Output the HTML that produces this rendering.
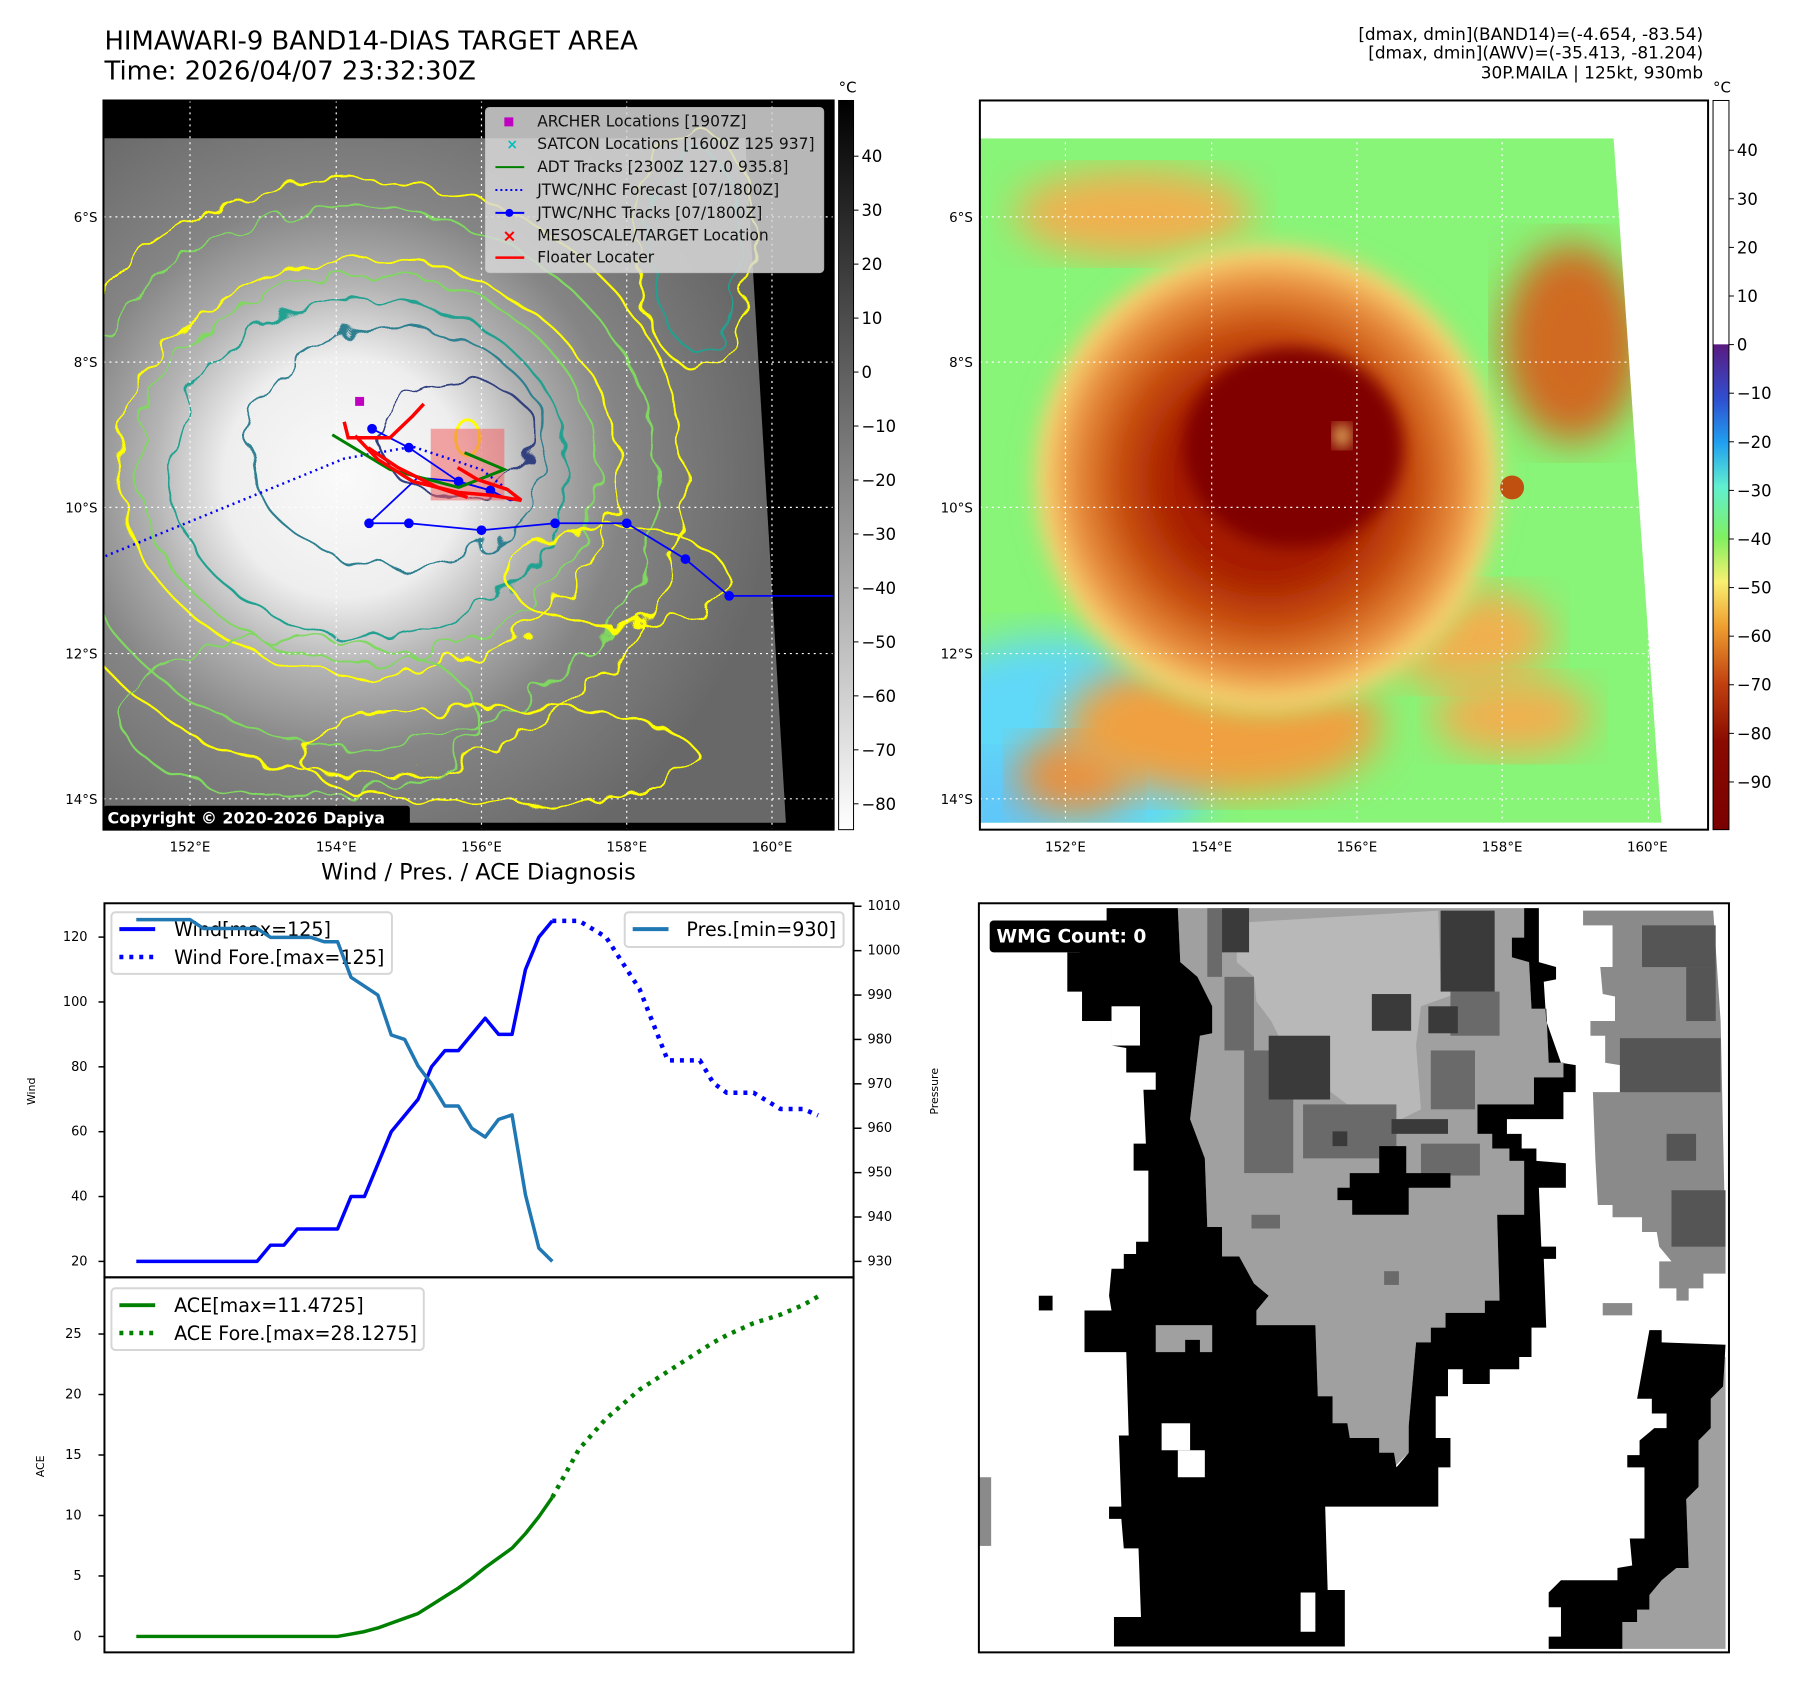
<!DOCTYPE html>
<html><head><meta charset="utf-8"><style>
html,body{margin:0;padding:0;background:#fff;}
svg{display:block;font-family:"DejaVu Sans","Liberation Sans",sans-serif;}
</style></head><body>
<svg id="root" width="1797" height="1690" viewBox="0 0 1797 1690" xmlns="http://www.w3.org/2000/svg">
<defs>
<radialGradient id="g1" cx="346" cy="480" r="430" gradientUnits="userSpaceOnUse">
<stop offset="0" stop-color="#fafafa"/><stop offset="0.28" stop-color="#eeeeee"/><stop offset="0.45" stop-color="#b4b4b4"/><stop offset="0.65" stop-color="#858585"/><stop offset="1" stop-color="#686868"/></radialGradient>
<radialGradient id="ring" cx="1274" cy="480" r="250" gradientUnits="userSpaceOnUse">
<stop offset="0" stop-color="#9a1000"/><stop offset="0.4" stop-color="#a82000"/><stop offset="0.6" stop-color="#c85010"/><stop offset="0.78" stop-color="#e89040"/><stop offset="0.9" stop-color="#f8d070"/><stop offset="1" stop-color="#90f070" stop-opacity="0"/></radialGradient>
<linearGradient id="cb1" x1="0" y1="0" x2="0" y2="1"><stop offset="0" stop-color="#000"/><stop offset="1" stop-color="#fff"/></linearGradient>
<linearGradient id="cb2" x1="0" y1="0" x2="0" y2="1">
<stop offset="0" stop-color="#fff"/><stop offset="0.334" stop-color="#fff"/><stop offset="0.335" stop-color="#5a1a80"/><stop offset="0.41" stop-color="#3050d0"/><stop offset="0.47" stop-color="#20a0f0"/><stop offset="0.53" stop-color="#60f0d0"/><stop offset="0.6" stop-color="#80f060"/><stop offset="0.66" stop-color="#f8f070"/><stop offset="0.72" stop-color="#f0a030"/><stop offset="0.8" stop-color="#c04010"/><stop offset="0.88" stop-color="#8a0a00"/><stop offset="1" stop-color="#7a0000"/></linearGradient>
<filter id="blur8"><feGaussianBlur stdDeviation="8"/></filter>
<filter id="blur20"><feGaussianBlur stdDeviation="20"/></filter>
<filter id="rough" x="-10%" y="-10%" width="120%" height="120%"><feTurbulence type="fractalNoise" baseFrequency="0.03" numOctaves="2" seed="3"/><feDisplacementMap in="SourceGraphic" scale="30"/></filter>
<clipPath id="c1"><rect x="104" y="101" width="734" height="733"/></clipPath>
<clipPath id="c2"><polygon points="985,139 1622,139 1670,827 985,827"/></clipPath>
</defs>
<g transform="scale(0.9948)">

<text x="105" y="50" font-size="26">HIMAWARI-9 BAND14-DIAS TARGET AREA</text>
<text x="105" y="80" font-size="26">Time: 2026/04/07 23:32:30Z</text>
<g font-size="17" text-anchor="end">
<text x="1712" y="40">[dmax, dmin](BAND14)=(-4.654, -83.54)</text>
<text x="1712" y="59">[dmax, dmin](AWV)=(-35.413, -81.204)</text>
<text x="1712" y="79">30P.MAILA | 125kt, 930mb</text>
</g>

<g>
<rect x="104" y="101" width="734" height="733" fill="#000"/>
<g clip-path="url(#c1)">
<polygon points="104,139 749,139 790,827 104,827" fill="url(#g1)"/>
<g fill="none" filter="url(#rough)" stroke-width="2.2">
<ellipse cx="360" cy="480" rx="330" ry="300" stroke="#ffff00"/>
<ellipse cx="360" cy="480" rx="300" ry="270" stroke="#80d860"/>
<ellipse cx="370" cy="470" rx="250" ry="210" stroke="#ffff00"/>
<ellipse cx="370" cy="470" rx="230" ry="195" stroke="#80d860"/>
<ellipse cx="370" cy="470" rx="200" ry="170" stroke="#20a090"/>
<ellipse cx="400" cy="450" rx="150" ry="120" stroke="#2f7f90"/>
<ellipse cx="460" cy="440" rx="80" ry="60" stroke="#30407f"/>
<ellipse cx="700" cy="250" rx="60" ry="120" stroke="#ffff00"/>
<ellipse cx="700" cy="250" rx="45" ry="100" stroke="#20a090"/>
<ellipse cx="620" cy="580" rx="110" ry="50" stroke="#ffff00"/>
<ellipse cx="300" cy="720" rx="180" ry="80" stroke="#80d860"/>
<ellipse cx="500" cy="760" rx="200" ry="50" stroke="#ffff00"/>
</g>
<ellipse cx="470" cy="440" rx="12" ry="18" fill="none" stroke="#ffff00" stroke-width="3"/>
<g stroke="#fff" stroke-width="1.2" stroke-dasharray="2 4">
<line x1="191" y1="101" x2="191" y2="834"/><line x1="338" y1="101" x2="338" y2="834"/><line x1="484" y1="101" x2="484" y2="834"/><line x1="630" y1="101" x2="630" y2="834"/><line x1="776" y1="101" x2="776" y2="834"/>
<line x1="104" y1="218" x2="838" y2="218"/><line x1="104" y1="364" x2="838" y2="364"/><line x1="104" y1="510" x2="838" y2="510"/><line x1="104" y1="657" x2="838" y2="657"/><line x1="104" y1="803" x2="838" y2="803"/>
</g>
<rect x="433" y="431" width="74" height="72" fill="#f06060" opacity="0.55"/>
<polyline points="106,559 346,461 415,449 484,472 524,503" fill="none" stroke="#0000ff" stroke-width="2.5" stroke-dasharray="2 4"/>
<g stroke="#0000ff" fill="#0000ff" stroke-width="1.8">
<polyline fill="none" points="838,599 733,599 689,562 630,526 558,526 484,533 411,526 371,526 420,480 461,484 493,493 513,503 524,501"/>
<polyline fill="none" points="374,431 411,450 461,484 493,493 513,503"/>
<circle cx="733" cy="599" r="4"/><circle cx="689" cy="562" r="4"/><circle cx="630" cy="526" r="4"/><circle cx="558" cy="526" r="4"/><circle cx="484" cy="533" r="4"/><circle cx="411" cy="526" r="4"/><circle cx="371" cy="526" r="4"/><circle cx="374" cy="431" r="4"/><circle cx="411" cy="450" r="4"/><circle cx="461" cy="484" r="4"/><circle cx="493" cy="493" r="4"/>
</g>
<polyline points="334,437 392,472 461,490 507,472 467,455" fill="none" stroke="#008000" stroke-width="3"/>
<g fill="none" stroke="#ff0000" stroke-width="3.5">
<polyline points="346,424 350,440 392,440 415,418 426,406"/>
<polyline points="357,438 380,462 415,484 461,495 495,498 524,503 510,492 480,482 460,470"/>
<polyline points="370,450 400,470 440,490 470,500"/>
</g>
<rect x="357" y="399" width="9" height="9" fill="#c000c0"/>
</g>
<g>
<rect x="488" y="108" width="340" height="166" rx="4" fill="#d8d8d8" opacity="0.85" stroke="#ccc"/>
<rect x="507" y="118" width="9" height="9" fill="#c000c0"/>
<text x="509" y="150" fill="#00bfbf" font-size="14" font-weight="bold">×</text>
<line x1="498" y1="168" x2="527" y2="168" stroke="#008000" stroke-width="2"/>
<line x1="498" y1="191" x2="527" y2="191" stroke="#0000ff" stroke-width="2" stroke-dasharray="2 3"/>
<line x1="498" y1="214" x2="527" y2="214" stroke="#0000ff" stroke-width="2"/><circle cx="512" cy="214" r="4" fill="#0000ff"/>
<text x="505" y="243" fill="#ff0000" font-size="17" font-weight="bold">×</text>
<line x1="498" y1="259" x2="527" y2="259" stroke="#ff0000" stroke-width="2.5"/>
<g font-size="15.6" fill="#111">
<text x="540" y="127">ARCHER Locations [1907Z]</text>
<text x="540" y="150">SATCON Locations [1600Z 125 937]</text>
<text x="540" y="173">ADT Tracks [2300Z 127.0 935.8]</text>
<text x="540" y="196">JTWC/NHC Forecast [07/1800Z]</text>
<text x="540" y="219">JTWC/NHC Tracks [07/1800Z]</text>
<text x="540" y="242">MESOSCALE/TARGET Location</text>
<text x="540" y="264">Floater Locater</text>
</g></g>
<rect x="104" y="810" width="308" height="23" rx="3" fill="#000"/>
<text x="108" y="828" font-size="16" font-weight="bold" fill="#fff">Copyright © 2020-2026 Dapiya</text>
<rect x="104" y="101" width="734" height="733" fill="none" stroke="#000" stroke-width="2"/>
</g>

<g>
<rect x="843" y="101" width="15" height="733" fill="url(#cb1)" stroke="#000" stroke-width="1"/>
<text x="852" y="93" font-size="15" text-anchor="middle">°C</text>
<g font-size="16.5" id="cb1ticks"></g>
</g>

<g>
<rect x="985" y="101" width="732" height="733" fill="#fff"/>
<g clip-path="url(#c2)">
<rect x="985" y="139" width="700" height="700" fill="#88f478"/>
<ellipse cx="1060" cy="760" rx="160" ry="120" fill="#60d8f8" filter="url(#blur20)"/>
<ellipse cx="1000" cy="820" rx="60" ry="60" fill="#60c8f8" filter="url(#blur20)"/>
<ellipse cx="1580" cy="345" rx="70" ry="100" fill="#d06a20" filter="url(#blur20)"/>
<ellipse cx="1140" cy="215" rx="120" ry="45" fill="#f0b050" filter="url(#blur20)"/>
<ellipse cx="1470" cy="640" rx="90" ry="50" fill="#f0b050" filter="url(#blur20)"/>
<ellipse cx="1520" cy="720" rx="80" ry="40" fill="#f0b050" filter="url(#blur20)"/>
<ellipse cx="1080" cy="780" rx="60" ry="40" fill="#e89040" filter="url(#blur20)"/>
<ellipse cx="1230" cy="730" rx="160" ry="70" fill="#f0a040" filter="url(#blur20)"/>
<ellipse cx="1274" cy="480" rx="265" ry="275" fill="url(#ring)" filter="url(#blur8)"/>
<ellipse cx="1300" cy="450" rx="110" ry="100" fill="#800000" filter="url(#blur8)"/>
<ellipse cx="1349" cy="438" rx="9" ry="12" fill="#f8d070" filter="url(#blur8)"/>
<ellipse cx="1520" cy="490" rx="12" ry="12" fill="#c05010"/>
<g stroke="#fff" stroke-width="1.2" stroke-dasharray="2 4">
<line x1="1071" y1="101" x2="1071" y2="834"/><line x1="1218" y1="101" x2="1218" y2="834"/><line x1="1364" y1="101" x2="1364" y2="834"/><line x1="1510" y1="101" x2="1510" y2="834"/><line x1="1657" y1="101" x2="1657" y2="834"/>
<line x1="985" y1="218" x2="1717" y2="218"/><line x1="985" y1="364" x2="1717" y2="364"/><line x1="985" y1="510" x2="1717" y2="510"/><line x1="985" y1="657" x2="1717" y2="657"/><line x1="985" y1="803" x2="1717" y2="803"/>
</g>
</g>
<rect x="985" y="101" width="732" height="733" fill="none" stroke="#000" stroke-width="2"/>
</g>
<g>
<rect x="1722" y="101" width="16" height="733" fill="url(#cb2)" stroke="#000" stroke-width="1"/>
<text x="1731" y="93" font-size="15" text-anchor="middle">°C</text>
<g font-size="16.5" id="cb2ticks"></g>
</g>

<g font-size="13.5" id="geoLabels"></g>

<text x="481" y="884" font-size="22.5" text-anchor="middle">Wind / Pres. / ACE Diagnosis</text>
<g id="chart"></g>

<g>
<svg x="984" y="908" width="754" height="753" viewBox="0 0 1527 1527" preserveAspectRatio="none">
<rect x="0" y="0" width="1527" height="1527" fill="#fff"/>
<polygon fill="#a0a0a0" points="385,10 1110,10 1110,70 1085,70 1085,110 1120,120 1125,215 1155,215 1160,325 1190,325 1190,355 1130,355 1130,410 1015,410 1015,470 1045,470 1045,500 1080,500 1080,525 1110,525 1110,635 1055,635 1060,810 1030,810 1030,835 950,835 950,865 920,865 920,895 890,895 875,1065 875,1120 845,1150 815,1120 815,1090 755,1090 720,1060 720,1005 690,1005 685,860 565,860 565,830 590,800 560,775 530,720 495,720 495,660 465,660 460,520 430,440 450,270 475,265 475,210 445,150 410,120 405,10"/>
<polygon fill="#b8b8b8" points="525,40 935,15 940,160 970,160 970,185 900,210 890,290 900,420 860,440 770,440 750,410 710,380 660,350 620,290 595,240 565,200 560,150 525,120"/>
<g fill="#6a6a6a">
<rect x="465" y="10" width="30" height="140"/><rect x="500" y="150" width="60" height="150"/><rect x="540" y="300" width="100" height="250"/><rect x="660" y="410" width="190" height="110"/><rect x="900" y="490" width="120" height="65"/><rect x="960" y="180" width="100" height="90"/><rect x="920" y="300" width="90" height="120"/><rect x="555" y="635" width="58" height="28"/><rect x="825" y="750" width="30" height="28"/>
</g>
<g fill="#3a3a3a">
<rect x="940" y="15" width="110" height="165"/><rect x="495" y="10" width="55" height="90"/><rect x="590" y="270" width="125" height="130"/><rect x="800" y="185" width="80" height="75"/><rect x="915" y="210" width="60" height="55"/><rect x="840" y="440" width="115" height="30"/><rect x="720" y="465" width="30" height="30"/>
</g>
<polygon fill="#000" points="755,550 815,550 815,495 870,495 870,550 960,550 960,580 875,580 875,635 760,635 760,605 730,605 730,580 755,580"/>
<polygon fill="#000" points="260,10 405,10 410,120 445,150 475,210 475,265 450,270 430,440 460,520 465,660 495,660 495,720 530,720 560,775 590,800 565,830 565,860 685,860 690,1005 720,1005 720,1060 750,1060 755,1090 815,1090 815,1120 845,1120 850,1150 935,1150 935,1230 705,1230 710,1400 745,1400 745,1515 275,1515 275,1455 330,1455 325,1315 295,1315 290,1255 265,1255 265,1230 290,1230 285,1085 305,1085 300,915 215,915 215,830 270,830 265,800 270,745 295,745 295,715 320,715 320,690 345,690 345,545 315,545 315,490 340,490 335,380 360,380 360,345 300,345 300,295 270,290 270,240 210,240 210,180 180,180 180,100 205,100 205,40 260,40"/>
<g fill="#fff"><rect x="372" y="1060" width="58" height="55"/><rect x="405" y="1115" width="55" height="55"/><rect x="270" y="210" width="58" height="80"/><rect x="655" y="1405" width="30" height="80"/></g>
<polygon fill="#a0a0a0" points="360,860 475,860 475,915 450,915 450,890 420,890 420,915 360,915"/>
<polygon fill="#000" points="1110,10 1140,10 1140,120 1175,130 1175,155 1150,160 1155,240 1185,325 1215,330 1215,385 1190,385 1190,440 1075,440 1075,470 1105,470 1105,500 1135,500 1135,525 1195,530 1195,580 1140,580 1145,700 1175,700 1175,725 1150,725 1155,865 1125,865 1125,925 1100,925 1100,950 1040,950 1040,980 985,980 985,950 955,950 955,1005 930,1005 930,1090 960,1090 960,1150 935,1150 935,1230 850,1150 875,1120 875,1065 890,895 920,895 920,865 950,865 950,835 1030,835 1030,810 1060,810 1055,635 1110,635 1110,525 1080,525 1080,500 1045,500 1045,470 1015,470 1015,410 1130,410 1130,355 1190,355 1190,325 1160,325 1155,215 1125,215 1120,120 1085,110 1085,70 1110,70"/>
<polygon fill="#8a8a8a" points="1230,15 1495,15 1510,240 1520,700 1520,755 1475,755 1475,785 1445,785 1445,810 1420,810 1420,785 1385,785 1385,730 1410,730 1385,700 1380,670 1350,670 1350,640 1290,640 1290,615 1260,615 1255,520 1250,385 1305,385 1305,330 1275,325 1275,270 1245,270 1245,240 1295,240 1295,190 1270,185 1265,130 1290,130 1290,45 1230,45"/>
<g fill="#555"><rect x="1350" y="45" width="150" height="85"/><rect x="1440" y="130" width="60" height="110"/><rect x="1305" y="275" width="205" height="110"/><rect x="1400" y="470" width="60" height="55"/><rect x="1410" y="585" width="110" height="115"/></g>
<rect x="1270" y="815" width="60" height="25" fill="#8a8a8a"/>
<polygon fill="#a0a0a0" points="1490,925 1520,925 1520,1520 1310,1520 1310,1465 1340,1465 1340,1440 1365,1440 1365,1410 1390,1380 1420,1355 1445,1355 1440,1215 1465,1190 1465,1095 1490,1070 1490,1010 1515,985 1490,985"/>
<polygon fill="#000" points="1365,870 1390,870 1390,895 1520,900 1515,985 1490,1010 1490,1070 1465,1095 1465,1190 1440,1215 1445,1355 1420,1355 1390,1380 1365,1410 1365,1440 1340,1440 1340,1465 1310,1465 1310,1520 1160,1520 1160,1495 1185,1495 1185,1435 1160,1435 1160,1405 1185,1380 1300,1380 1300,1355 1330,1350 1325,1295 1355,1295 1355,1150 1320,1150 1320,1125 1345,1125 1345,1095 1375,1070 1400,1070 1400,1040 1370,1040 1370,1010 1340,1010"/>
<rect x="0" y="1170" width="25" height="140" fill="#8a8a8a"/>
<rect x="122" y="800" width="28" height="30" fill="#000"/>
<rect x="22" y="35" width="367" height="65" rx="8" fill="#000"/>
<text x="36" y="80" font-size="38" font-weight="bold" fill="#fff">WMG Count: 0</text>
</svg>
<rect x="984" y="908" width="754" height="753" fill="none" stroke="#000" stroke-width="2"/>
</g>
</g>
</svg>

<script>
const obsIdx = [0,1,2,3,4,5,6,7,8,9,10,11,12,13,14,15,16,17,18,19,20,21,22,23,24,25,26,27,28,29,30,31];
const windObs = [20,20,20,20,20,20,20,20,20,20,25,25,30,30,30,30,40,40,50,60,65,70,80,85,85,90,95,90,90,110,120,125];
const presObs = [1007,1007,1007,1007,1007,1005,1005,1005,1005,1005,1003,1003,1003,1003,1002,1002,994,992,990,981,980,974,970,965,965,960,958,962,963,945,933,930];
const aceObs = [0,0,0,0,0,0,0,0,0,0,0,0,0,0,0,0,0.2,0.4,0.7,1.1,1.5,1.9,2.6,3.3,4.0,4.8,5.7,6.5,7.3,8.5,9.9,11.5];
const foreIdx = [31,33,35,37.5,39.6,42,43,44,46,48,49.7,50.8];
const windFore = [125,125,120,104,82,82,75,72,72,67,67,65];
const aceFore = [11.5,15.5,18,20.4,21.9,23.6,24.3,24.9,25.9,26.6,27.4,28.1];
const windTicks = [20,40,60,80,100,120];
const presTicks = [930,940,950,960,970,980,990,1000,1010];
const aceTicks = [0,5,10,15,20,25];
const cb1Ticks = [40,30,20,10,0,-10,-20,-30,-40,-50,-60,-70,-80];
const cb2Ticks = [40,30,20,10,0,-10,-20,-30,-40,-50,-60,-70,-80,-90];
const lonLabels = ["152°E","154°E","156°E","158°E","160°E"];
const latLabels = ["6°S","8°S","10°S","12°S","14°S"];

const NS = "http://www.w3.org/2000/svg";
function mk(tag, attrs, parent){ const e=document.createElementNS(NS,tag); for(const k in attrs) e.setAttribute(k,attrs[k]); parent.appendChild(e); return e; }
const x = i => 137 + i*13.49;
const yW = v => 1268 - (v-20)*3.26;
const yP = v => 1268 - (v-930)*4.4625;
const yA = v => 1645 - v*12.16;
const cb1Y = v => 157 + (40-v)*5.425;
const cb2Y = v => 151 + (40-v)*4.885;
const fmt = v => v<0 ? "\u2212"+(-v) : ""+v;

const chart = document.getElementById("chart");
function line(xs, ys, color, dotted, name){
  const p = mk("polyline",{points: xs.map((v,i)=>x(v)+","+ys[i]).join(" "), fill:"none", stroke:color, "stroke-width":3.5, "stroke-linejoin":"round"}, chart);
  if(dotted){ p.setAttribute("stroke-dasharray","4 6"); p.setAttribute("stroke-width","4.5"); }
  
  
  return p;
}
function text(xp, yp, s, size, anchor, parent){ const t=mk("text",{x:xp,y:yp,"font-size":size,"text-anchor":anchor||"start"},parent||chart); t.textContent=s; return t; }

const f1 = mk("rect",{x:105,y:908,width:753,height:376,fill:"none",stroke:"#000","stroke-width":2},chart);


const f2 = mk("rect",{x:105,y:1284,width:753,height:377,fill:"none",stroke:"#000","stroke-width":2},chart);



windTicks.forEach(v=>{ mk("line",{x1:99,x2:105,y1:yW(v),y2:yW(v),stroke:"#000","stroke-width":1.5},chart); text(88,yW(v)+4,v,13,"end"); });
presTicks.forEach(v=>{ mk("line",{x1:858,x2:866,y1:yP(v),y2:yP(v),stroke:"#000","stroke-width":1.5},chart); text(872,yP(v)+4,v,13,"start"); });
aceTicks.forEach(v=>{ mk("line",{x1:99,x2:105,y1:yA(v),y2:yA(v),stroke:"#000","stroke-width":1.5},chart); text(82,yA(v)+4,v,13,"end"); });
const t1=text(35,1097,"Wind",11,"middle"); t1.setAttribute("transform","rotate(-90 35 1097)");


const t2=text(943,1097,"Pressure",11,"middle"); t2.setAttribute("transform","rotate(-90 943 1097)");


const t3=text(44,1474,"ACE",11,"middle"); t3.setAttribute("transform","rotate(-90 44 1474)");



line(obsIdx, windObs.map(yW), "#0000ff", false, "wind-line");
line(foreIdx, windFore.map(yW), "#0000ff", true, "wind-forecast-line");
const lg1 = mk("rect",{x:112,y:917,width:282,height:62,rx:4,fill:"#fff",stroke:"#d0d0d0","stroke-width":2,opacity:0.85},chart);


mk("line",{x1:120,x2:156,y1:934,y2:934,stroke:"#0000ff","stroke-width":4},chart);
mk("line",{x1:120,x2:156,y1:962,y2:962,stroke:"#0000ff","stroke-width":4.5,"stroke-dasharray":"4 6"},chart);
text(175,941,"Wind[max=125]",19.2); text(175,969,"Wind Fore.[max=125]",19.2);

line(obsIdx, presObs.map(yP), "#1f77b4", false, "pressure-line");
const lg2 = mk("rect",{x:628,y:917,width:220,height:35,rx:4,fill:"#fff",stroke:"#d0d0d0","stroke-width":2,opacity:0.85},chart);


mk("line",{x1:636,x2:672,y1:934,y2:934,stroke:"#1f77b4","stroke-width":4},chart);
text(690,941,"Pres.[min=930]",19.2);

line(obsIdx, aceObs.map(yA), "#008000", false, "ace-line");
line(foreIdx, aceFore.map(yA), "#008000", true, "ace-forecast-line");
const lg3 = mk("rect",{x:112,y:1295,width:314,height:62,rx:4,fill:"#fff",stroke:"#d0d0d0","stroke-width":2,opacity:0.85},chart);


mk("line",{x1:120,x2:156,y1:1312,y2:1312,stroke:"#008000","stroke-width":4},chart);
mk("line",{x1:120,x2:156,y1:1340,y2:1340,stroke:"#008000","stroke-width":4.5,"stroke-dasharray":"4 6"},chart);
text(175,1319,"ACE[max=11.4725]",19.2); text(175,1347,"ACE Fore.[max=28.1275]",19.2);

const c1=document.getElementById("cb1ticks");
cb1Ticks.forEach(v=>{ mk("line",{x1:858,x2:863,y1:cb1Y(v),y2:cb1Y(v),stroke:"#000"},c1); text(866,cb1Y(v)+6,fmt(v),16.5,"start",c1); });
const c2=document.getElementById("cb2ticks");
cb2Ticks.forEach(v=>{ mk("line",{x1:1738,x2:1743,y1:cb2Y(v),y2:cb2Y(v),stroke:"#000"},c2); text(1746,cb2Y(v)+6,fmt(v),16.5,"start",c2); });

const gl=document.getElementById("geoLabels");
const lonX=[191,338,484,630,776], latY=[218,364,510,657,803];
lonLabels.forEach((s,i)=>{ text(lonX[i],856,s,13.5,"middle",gl); text(lonX[i]+880,856,s,13.5,"middle",gl); });
latLabels.forEach((s,i)=>{ text(98,latY[i]+5,s,13.5,"end",gl); text(978,latY[i]+5,s,13.5,"end",gl); });
</script>
</body></html>
